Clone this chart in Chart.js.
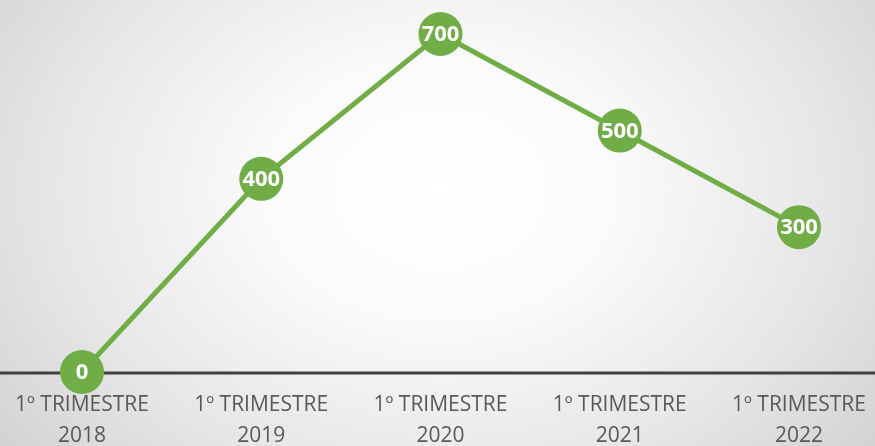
<!DOCTYPE html>
<html>
<head>
<meta charset="utf-8">
<script src="https://cdn.jsdelivr.net/npm/chart.js@4.4.1/dist/chart.umd.min.js"></script>
<style>
  html, body { margin: 0; padding: 0; }
  #wrap {
    width: 875px; height: 446px; position: relative;
    background: radial-gradient(ellipse 560px 420px at 440px 190px, #ffffff 0%, #fbfbfb 30%, #e6e6e6 70%, #d2d2d2 100%);
  }
</style>
</head>
<body>
<div id="wrap"><canvas id="chart" width="875" height="446"></canvas></div>
<script>
// === DATA ===
const quarters = ['1º TRIMESTRE', '1º TRIMESTRE', '1º TRIMESTRE', '1º TRIMESTRE', '1º TRIMESTRE'];
const years = ['2018', '2019', '2020', '2021', '2022'];
const values = [0, 400, 700, 500, 300];

const GREEN = '#70AD47';

// full-width axis line at value 0
const axisLine = {
  id: 'axisLine',
  beforeDatasetsDraw(chart) {
    const ctx = chart.ctx;
    const y = chart.scales.y.getPixelForValue(0);
    ctx.save();
    ctx.strokeStyle = '#404040';
    ctx.lineWidth = 3;
    ctx.beginPath();
    ctx.moveTo(0, y + 1);
    ctx.lineTo(chart.width, y + 1);
    ctx.stroke();
    ctx.restore();
  }
};

// white value labels inside the markers
const pointLabels = {
  id: 'pointLabels',
  afterDatasetsDraw(chart) {
    const ctx = chart.ctx;
    const meta = chart.getDatasetMeta(0);
    ctx.save();
    ctx.fillStyle = '#ffffff';
    ctx.font = 'bold 22px "Open Sans", sans-serif';
    ctx.textAlign = 'center';
    ctx.textBaseline = 'middle';
    meta.data.forEach((pt, i) => {
      ctx.fillText(String(values[i]), pt.x, pt.y + 1);
    });
    ctx.restore();
  }
};

new Chart(document.getElementById('chart').getContext('2d'), {
  type: 'line',
  data: {
    labels: quarters.map((q, i) => [q, years[i]]),
    datasets: [{
      data: values,
      borderColor: GREEN,
      borderWidth: 5,
      pointRadius: 22,
      pointHoverRadius: 22,
      pointBackgroundColor: GREEN,
      pointBorderWidth: 0,
      tension: 0,
      clip: false
    }]
  },
  options: {
    responsive: false,
    animation: false,
    events: [],
    layout: { padding: { left: 82, right: 72, top: 34, bottom: -15 } },
    plugins: { legend: { display: false }, tooltip: { enabled: false } },
    scales: {
      x: {
        offset: false,
        grid: { display: false },
        border: { display: false },
        ticks: {
          color: '#595959',
          font: { family: '"Open Sans", sans-serif', size: 21, lineHeight: 1.5 },
          padding: 9,
          maxRotation: 0,
          autoSkip: false
        }
      },
      y: {
        display: false,
        min: 0,
        max: 700
      }
    }
  },
  plugins: [axisLine, pointLabels]
});
</script>
</body>
</html>
